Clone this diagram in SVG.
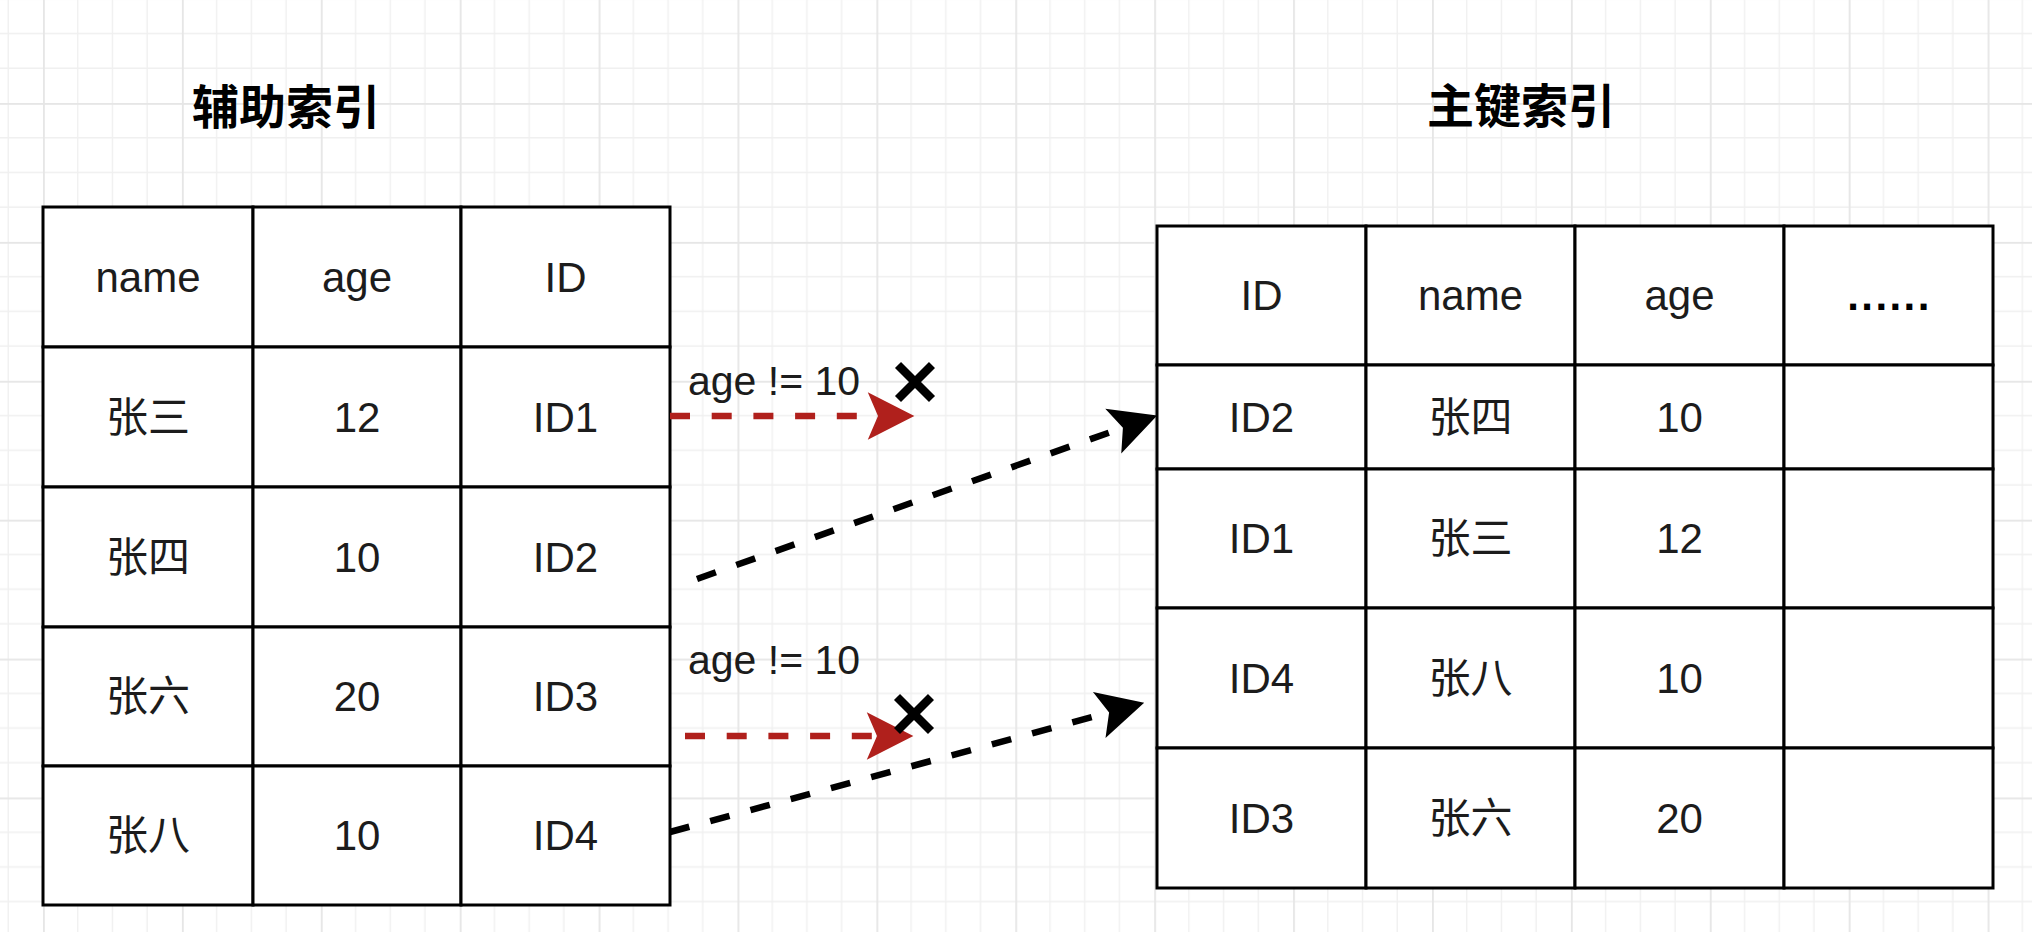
<svg xmlns="http://www.w3.org/2000/svg" width="2032" height="932" viewBox="0 0 2032 932">
  <style>
    .cell { fill: #ffffff; stroke: #000000; stroke-width: 3; }
    .txt { font-family: "Liberation Sans", Arial, "Noto Sans CJK SC", sans-serif; font-size: 42px; fill: #1c1c1c; text-anchor: middle; }
    .title { font-family: "Noto Sans CJK SC", "Liberation Sans", sans-serif; font-size: 47px; font-weight: bold; fill: #000000; text-anchor: middle; }
    .dots { font-weight: bold; letter-spacing: 2.4px; fill: #000000; }
    .lbl { font-family: "Liberation Sans", Arial, sans-serif; font-size: 41px; fill: #1c1c1c; }
    .red { fill: none; stroke: #b0201c; stroke-width: 6.5; stroke-dasharray: 20 21.7; }
    .blk { fill: none; stroke: #000000; stroke-width: 6.5; stroke-dasharray: 20 21.7; }
    .xmark { stroke: #000000; stroke-width: 8.5; stroke-linecap: butt; fill: none; }
  </style>
  <defs>
    <pattern id="grid" patternUnits="userSpaceOnUse" x="43" y="-35.9" width="138.9" height="138.9">
      <rect x="0" y="0" width="138.9" height="138.9" fill="#ffffff"/>
      <g stroke="#f0f0f0" stroke-width="1.3">
        <line x1="34.72" y1="0" x2="34.72" y2="138.9"/>
        <line x1="69.45" y1="0" x2="69.45" y2="138.9"/>
        <line x1="104.17" y1="0" x2="104.17" y2="138.9"/>
        <line x1="0" y1="34.72" x2="138.9" y2="34.72"/>
        <line x1="0" y1="69.45" x2="138.9" y2="69.45"/>
        <line x1="0" y1="104.17" x2="138.9" y2="104.17"/>
      </g>
      <rect x="0" y="0" width="1.8" height="138.9" fill="#e6e6e6"/>
      <rect x="0" y="0" width="138.9" height="1.8" fill="#e6e6e6"/>
    </pattern>
    <marker id="arrRed" markerUnits="userSpaceOnUse" markerWidth="50" markerHeight="50" viewBox="-10 -22 44 44" refX="0" refY="0" orient="auto">
      <path d="M32,0 L-9,-21 L0,0 L-9,21 Z" fill="#b0201c"/>
    </marker>
    <marker id="arrBlk" markerUnits="userSpaceOnUse" markerWidth="50" markerHeight="50" viewBox="-10 -22 44 44" refX="0" refY="0" orient="auto">
      <path d="M32,0 L-9,-21 L0,0 L-9,21 Z" fill="#000000"/>
    </marker>
  </defs>

  <rect x="0" y="0" width="2032" height="932" fill="url(#grid)"/>

  <g id="title-secondary">
    <text class="title" x="286" y="124">辅助索引</text>
  </g>
  <g id="title-primary">
    <text class="title" x="1521" y="123">主键索引</text>
  </g>

  <g id="table-secondary">
    <g id="sec-header">
      <rect class="cell" x="43" y="207" width="210" height="140"/>
      <rect class="cell" x="253" y="207" width="208" height="140"/>
      <rect class="cell" x="461" y="207" width="209" height="140"/>
      <text class="txt" x="148" y="292">name</text>
      <text class="txt" x="357" y="292">age</text>
      <text class="txt" x="565.5" y="292">ID</text>
    </g>
    <g id="sec-row1">
      <rect class="cell" x="43" y="347" width="210" height="140"/>
      <rect class="cell" x="253" y="347" width="208" height="140"/>
      <rect class="cell" x="461" y="347" width="209" height="140"/>
      <text class="txt" x="148" y="432">张三</text>
      <text class="txt" x="357" y="432">12</text>
      <text class="txt" x="565.5" y="432">ID1</text>
    </g>
    <g id="sec-row2">
      <rect class="cell" x="43" y="487" width="210" height="140"/>
      <rect class="cell" x="253" y="487" width="208" height="140"/>
      <rect class="cell" x="461" y="487" width="209" height="140"/>
      <text class="txt" x="148" y="572">张四</text>
      <text class="txt" x="357" y="572">10</text>
      <text class="txt" x="565.5" y="572">ID2</text>
    </g>
    <g id="sec-row3">
      <rect class="cell" x="43" y="627" width="210" height="139"/>
      <rect class="cell" x="253" y="627" width="208" height="139"/>
      <rect class="cell" x="461" y="627" width="209" height="139"/>
      <text class="txt" x="148" y="711">张六</text>
      <text class="txt" x="357" y="711">20</text>
      <text class="txt" x="565.5" y="711">ID3</text>
    </g>
    <g id="sec-row4">
      <rect class="cell" x="43" y="766" width="210" height="139"/>
      <rect class="cell" x="253" y="766" width="208" height="139"/>
      <rect class="cell" x="461" y="766" width="209" height="139"/>
      <text class="txt" x="148" y="850">张八</text>
      <text class="txt" x="357" y="850">10</text>
      <text class="txt" x="565.5" y="850">ID4</text>
    </g>
  </g>

  <g id="table-primary">
    <g id="pri-header">
      <rect class="cell" x="1157" y="226" width="209" height="139"/>
      <rect class="cell" x="1366" y="226" width="209" height="139"/>
      <rect class="cell" x="1575" y="226" width="209" height="139"/>
      <rect class="cell" x="1784" y="226" width="209" height="139"/>
      <text class="txt" x="1261.5" y="310">ID</text>
      <text class="txt" x="1470.5" y="310">name</text>
      <text class="txt" x="1679.5" y="310">age</text>
      <text class="txt dots" x="1889.5" y="310">......</text>
    </g>
    <g id="pri-row1">
      <rect class="cell" x="1157" y="365" width="209" height="104"/>
      <rect class="cell" x="1366" y="365" width="209" height="104"/>
      <rect class="cell" x="1575" y="365" width="209" height="104"/>
      <rect class="cell" x="1784" y="365" width="209" height="104"/>
      <text class="txt" x="1261.5" y="432">ID2</text>
      <text class="txt" x="1470.5" y="432">张四</text>
      <text class="txt" x="1679.5" y="432">10</text>
    </g>
    <g id="pri-row2">
      <rect class="cell" x="1157" y="469" width="209" height="139"/>
      <rect class="cell" x="1366" y="469" width="209" height="139"/>
      <rect class="cell" x="1575" y="469" width="209" height="139"/>
      <rect class="cell" x="1784" y="469" width="209" height="139"/>
      <text class="txt" x="1261.5" y="553">ID1</text>
      <text class="txt" x="1470.5" y="553">张三</text>
      <text class="txt" x="1679.5" y="553">12</text>
    </g>
    <g id="pri-row3">
      <rect class="cell" x="1157" y="608" width="209" height="140"/>
      <rect class="cell" x="1366" y="608" width="209" height="140"/>
      <rect class="cell" x="1575" y="608" width="209" height="140"/>
      <rect class="cell" x="1784" y="608" width="209" height="140"/>
      <text class="txt" x="1261.5" y="693">ID4</text>
      <text class="txt" x="1470.5" y="693">张八</text>
      <text class="txt" x="1679.5" y="693">10</text>
    </g>
    <g id="pri-row4">
      <rect class="cell" x="1157" y="748" width="209" height="140"/>
      <rect class="cell" x="1366" y="748" width="209" height="140"/>
      <rect class="cell" x="1575" y="748" width="209" height="140"/>
      <rect class="cell" x="1784" y="748" width="209" height="140"/>
      <text class="txt" x="1261.5" y="833">ID3</text>
      <text class="txt" x="1470.5" y="833">张六</text>
      <text class="txt" x="1679.5" y="833">20</text>
    </g>
  </g>

  <g id="connectors">
    <path id="edge-id1-reject" class="red" d="M670,416 L878,416" marker-end="url(#arrRed)"/>
    <path id="edge-id3-reject" class="red" d="M685,736 L877,736" marker-end="url(#arrRed)"/>
    <path id="edge-id2-lookup" class="blk" d="M697,579 L1122.9,427.7" marker-end="url(#arrBlk)"/>
    <path id="edge-id4-lookup" class="blk" d="M670,832 L1109.1,712.4" marker-end="url(#arrBlk)"/>
    <text class="lbl" x="688" y="395">age != 10</text>
    <text class="lbl" x="688" y="674">age != 10</text>
  </g>

  <g id="reject-mark-1">
    <path class="xmark" d="M898,365 L932,399 M932,365 L898,399"/>
  </g>
  <g id="reject-mark-2">
    <path class="xmark" d="M897,697 L931,731 M931,697 L897,731"/>
  </g>
</svg>
